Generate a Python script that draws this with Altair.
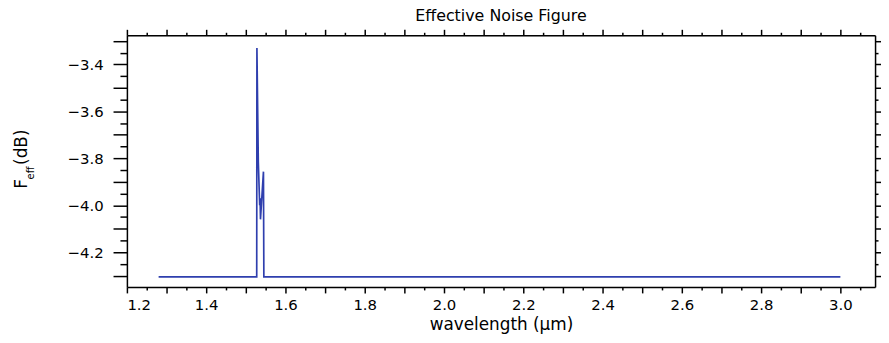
import altair as alt
import pandas as pd

# data
wavelength = [1.28, 1.5275, 1.528, 1.5315, 1.535, 1.536, 1.537, 1.5445, 1.5455, 3.0]
f_eff = [-4.305, -4.305, -3.33, -3.815, -4.0, -3.97, -4.06, -3.857, -4.305, -4.305]

x_major = [round(1.2 + 0.1 * i, 2) for i in range(19)]
x_minor = [round(1.25 + 0.1 * i, 2) for i in range(19)]
y_major = [round(-4.3 + 0.1 * i, 2) for i in range(11)]
y_minor = [round(-4.35 + 0.1 * i, 2) for i in range(11)]

df = pd.DataFrame({"wl": wavelength, "f": f_eff})

FONT = "DejaVu Sans"
LINE_COLOR = "#2f3fae"
xs = alt.Scale(domain=[1.2, 3.0875], nice=False, zero=False)
ys = alt.Scale(domain=[-4.348, -3.276], nice=False, zero=False)

label_expr = "(round(datum.value*10) % 2 == 0) ? format(datum.value, '.1f') : ''"


def ax(orient, values, size, labels=False, title=None, domain=True, **kw):
    args = dict(orient=orient, values=values, tickSize=size, labels=labels,
                domain=domain, domainColor="black", domainWidth=1.5,
                tickColor="black", tickWidth=1.5, grid=False)
    if labels:
        args.update(labelExpr=label_expr, labelFont=FONT, labelFontSize=15,
                    labelColor="black")
    if title is not None:
        args.update(title=title, titleFont=FONT, titleFontSize=17,
                    titleFontWeight="normal", titleColor="black")
    else:
        args.update(title=None)
    args.update(kw)
    return alt.Axis(**args)


base = alt.Chart(df)

main = base.mark_line(color=LINE_COLOR, strokeWidth=1.7, clip=True).encode(
    x=alt.X("wl:Q", scale=xs,
            axis=ax("bottom", x_major, 6, labels=True, title="wavelength (μm)",
                    labelPadding=5, titlePadding=4)),
    y=alt.Y("f:Q", scale=ys,
            axis=ax("left", y_major, 14, labels=True, labelPadding=10)),
    order=alt.Order("wl:Q"),
)

top_right_major = base.mark_line(opacity=0).encode(
    x=alt.X("wl:Q", scale=xs, axis=ax("top", x_major, 6)),
    y=alt.Y("f:Q", scale=ys, axis=ax("right", y_major, 6)),
)

bottom_left_minor = base.mark_line(opacity=0).encode(
    x=alt.X("wl:Q", scale=xs, axis=ax("bottom", x_minor, 3, domain=False)),
    y=alt.Y("f:Q", scale=ys, axis=ax("left", y_minor, 7, domain=False)),
)

top_right_minor = base.mark_line(opacity=0).encode(
    x=alt.X("wl:Q", scale=xs, axis=ax("top", x_minor, 3, domain=False)),
    y=alt.Y("f:Q", scale=ys, axis=ax("right", y_minor, 3, domain=False)),
)

blank = alt.Data(values=[{}])
t_F = alt.Chart(blank).mark_text(text="F", font=FONT, fontSize=17, angle=270,
                                 color="black", align="center", baseline="middle").encode(
    x=alt.value(-106), y=alt.value(150))
t_eff = alt.Chart(blank).mark_text(text="eff", font=FONT, fontSize=10, angle=270,
                                   color="black", align="center", baseline="middle").encode(
    x=alt.value(-97), y=alt.value(139))
t_db = alt.Chart(blank).mark_text(text="(dB)", font=FONT, fontSize=17, angle=270,
                                  color="black", align="center", baseline="middle").encode(
    x=alt.value(-106), y=alt.value(113))

chart = alt.layer(
    main, top_right_major, bottom_left_minor, top_right_minor, t_F, t_eff, t_db
).resolve_axis(x="independent", y="independent").properties(
    width=755,
    height=254,
    autosize=alt.AutoSizeParams(type="none"),
    padding={"left": 120, "top": 26, "right": 6, "bottom": 50},
    title=alt.TitleParams("Effective Noise Figure", font=FONT, fontSize=16,
                          fontWeight="normal", color="black", anchor="middle",
                          offset=5),
).configure_view(stroke=None).configure(background="white")

chart.save("out.html", embed_options={"renderer": "svg", "actions": False})
